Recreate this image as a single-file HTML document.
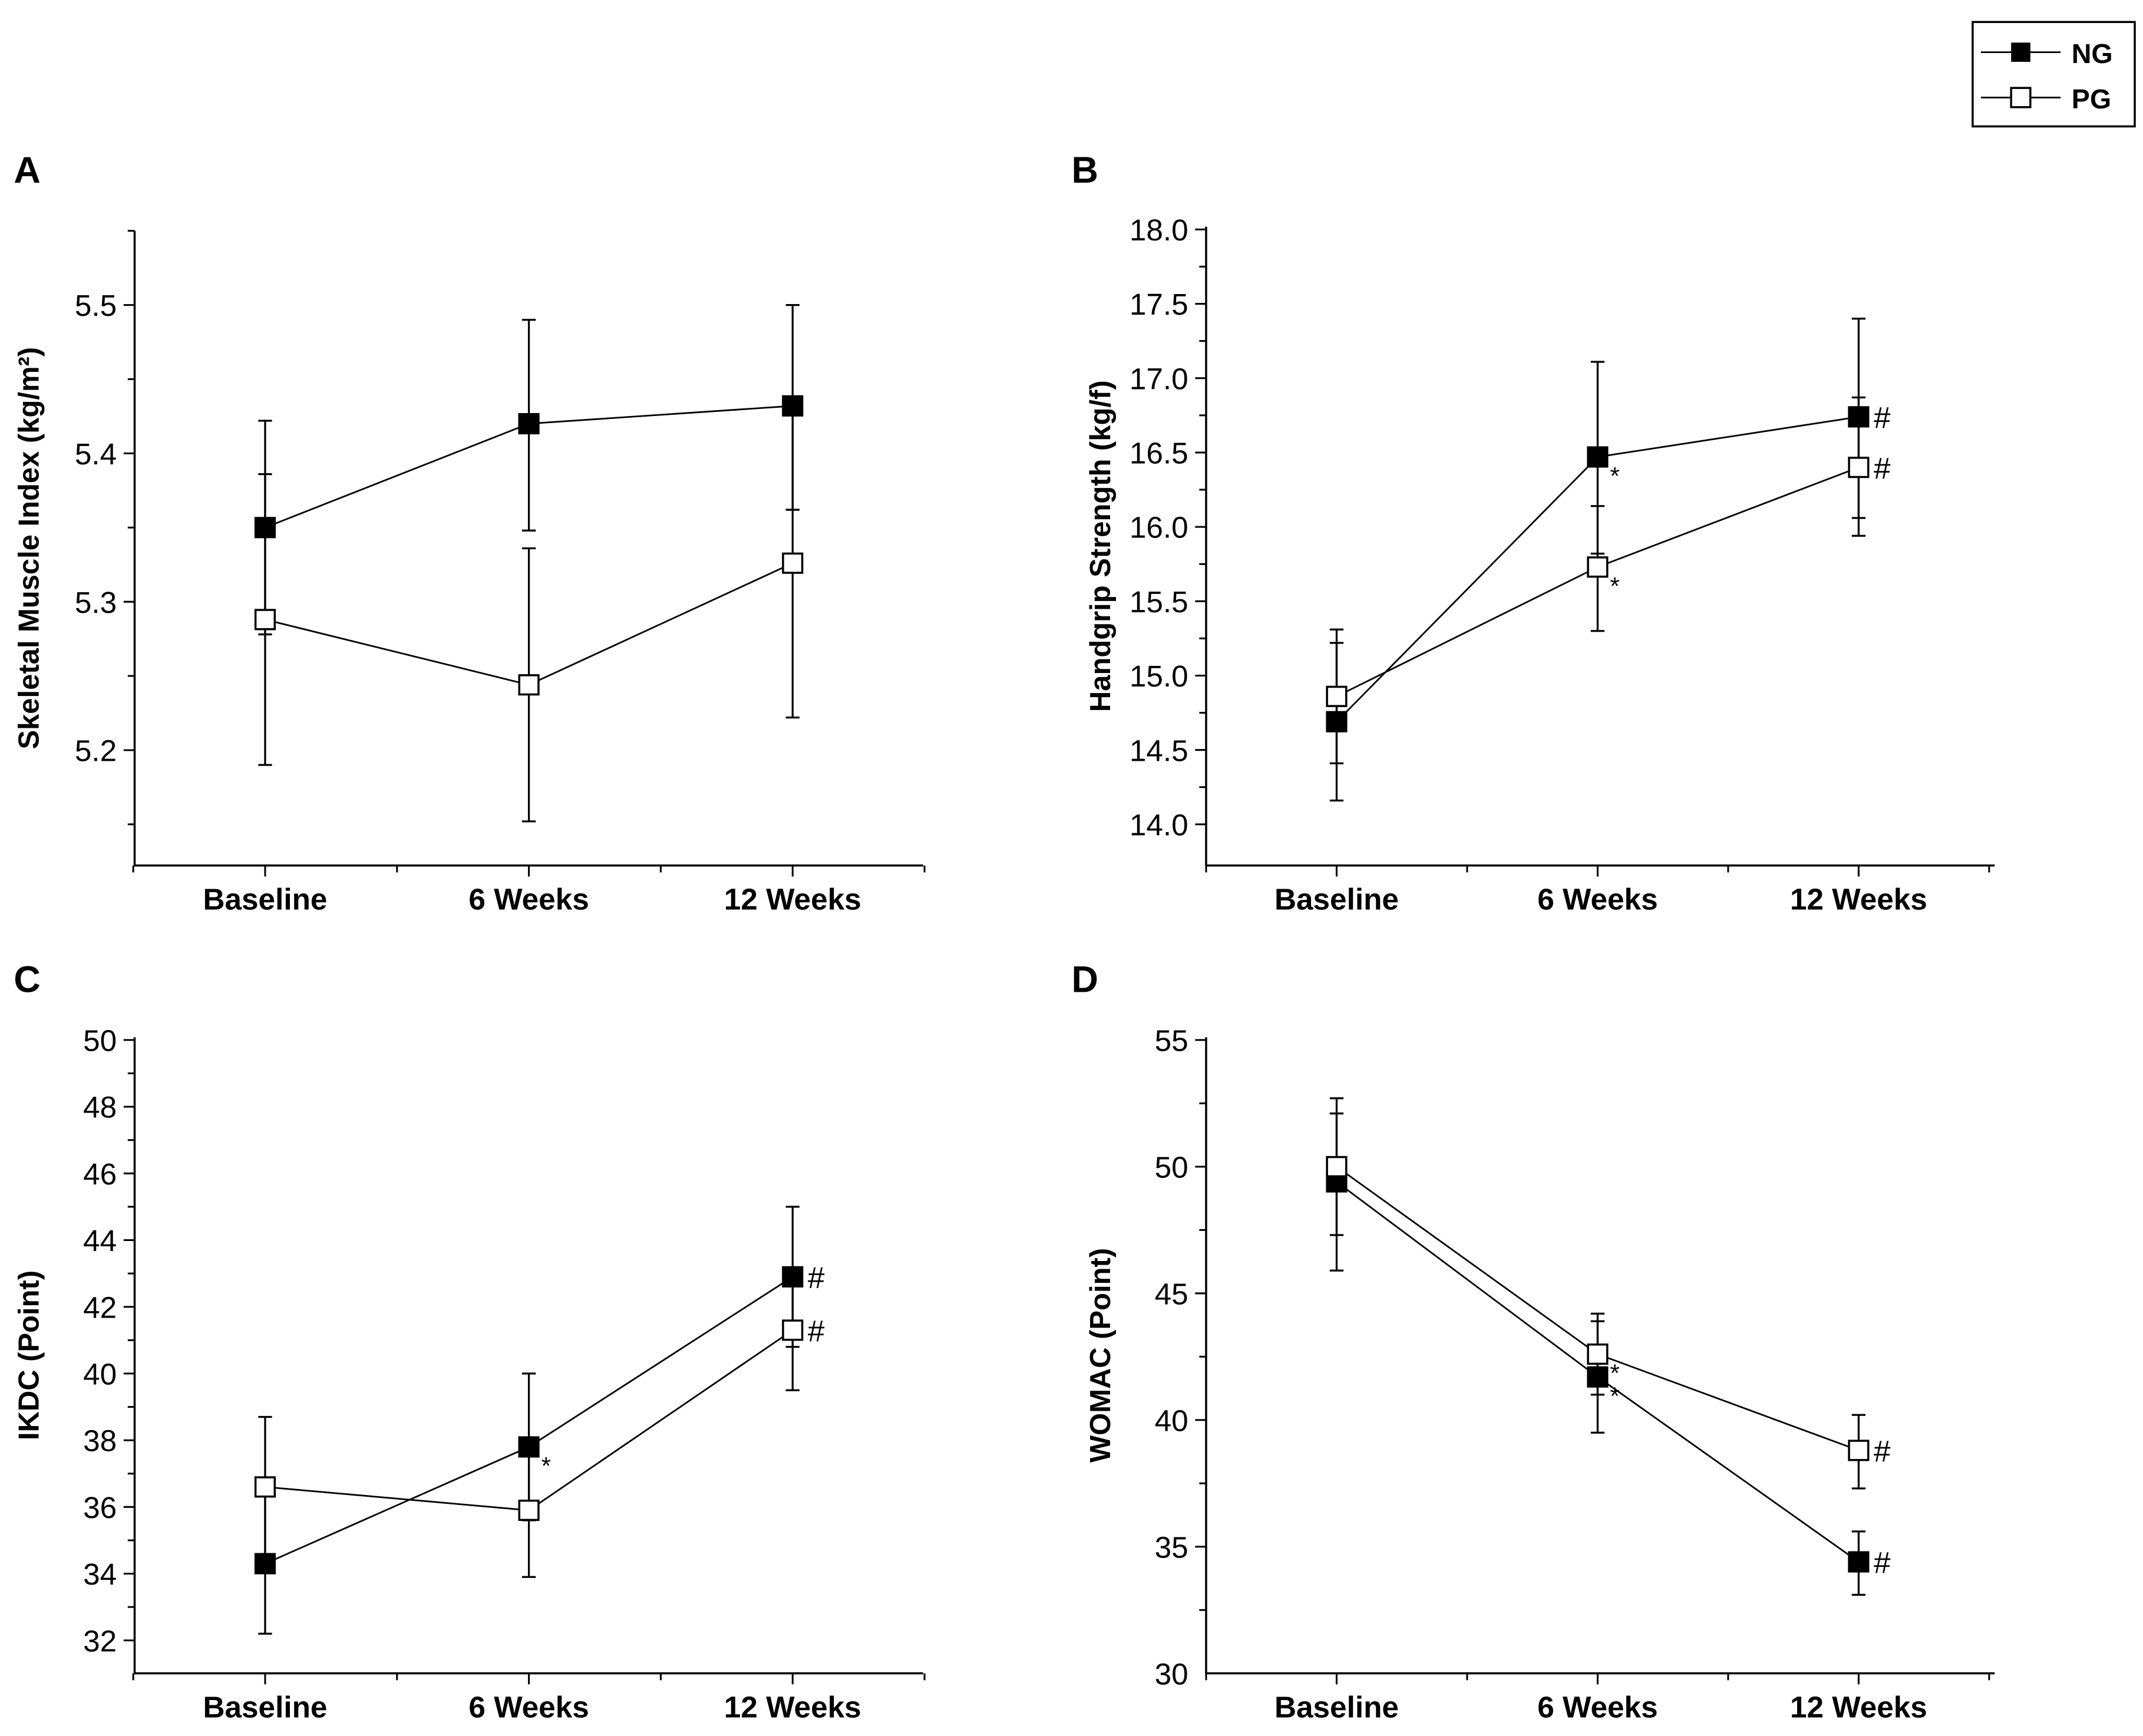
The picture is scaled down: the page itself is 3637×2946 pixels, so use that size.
<!DOCTYPE html>
<html><head><meta charset="utf-8"><style>html,body{margin:0;padding:0;background:#fff}svg{display:block}</style></head>
<body>
<svg id="chart" xmlns="http://www.w3.org/2000/svg" width="3637" height="2946" viewBox="0 0 1560 1263.6" font-family="Liberation Sans, Arial, sans-serif">
<rect width="1560" height="1263.6" fill="#fff"/>
<g>
<rect x="1436" y="16" width="118" height="76" fill="#fff" stroke="#000" stroke-width="1.5"/>
<line x1="1442" y1="38" x2="1500" y2="38" stroke="#000" stroke-width="1.2"/>
<rect x="1464" y="31" width="14" height="14" fill="#000"/>
<text x="1508" y="46" font-size="20" font-weight="bold">NG</text>
<line x1="1442" y1="71" x2="1500" y2="71" stroke="#000" stroke-width="1.2"/>
<rect x="1464" y="64" width="14" height="14" fill="#fff" stroke="#000" stroke-width="1.5"/>
<text x="1508" y="79" font-size="20" font-weight="bold">PG</text>
</g>
<g id="plots"></g>
</svg>
<script>
const categories = ["Baseline","6 Weeks","12 Weeks"];
const ngA = [5.35, 5.42, 5.432];
const ngAErrHi = [5.422, 5.49, 5.5];
const ngAErrLo = [5.278, 5.348, 5.362];
const pgA = [5.288, 5.244, 5.326];
const pgAErrHi = [5.386, 5.336, 5.43];
const pgAErrLo = [5.19, 5.152, 5.222];
const ticksA = ["5.2","5.3","5.4","5.5"];

const ngB = [14.69, 16.47, 16.74];
const ngBErrHi = [15.22, 17.11, 17.40];
const ngBErrLo = [14.16, 15.82, 16.06];
const pgB = [14.86, 15.73, 16.40];
const pgBErrHi = [15.31, 16.14, 16.87];
const pgBErrLo = [14.41, 15.30, 15.94];
const ticksB = ["14.0","14.5","15.0","15.5","16.0","16.5","17.0","17.5","18.0"];

const ngC = [34.3, 37.8, 42.9];
const ngCErrHi = [36.4, 40.0, 45.0];
const ngCErrLo = [32.2, 35.6, 40.8];
const pgC = [36.6, 35.9, 41.3];
const pgCErrHi = [38.7, 37.9, 43.1];
const pgCErrLo = [34.4, 33.9, 39.5];
const ticksC = ["32","34","36","38","40","42","44","46","48","50"];

const ngD = [49.4, 41.7, 34.4];
const ngDErrHi = [52.1, 43.9, 35.6];
const ngDErrLo = [45.9, 39.5, 33.1];
const pgD = [50.0, 42.6, 38.8];
const pgDErrHi = [52.7, 44.2, 40.2];
const pgDErrLo = [47.3, 41.0, 37.3];
const ticksD = ["30","35","40","45","50","55"];

const NS="http://www.w3.org/2000/svg";
const root=document.getElementById('plots');
function mk(tag,attrs,parent){const e=document.createElementNS(NS,tag);for(const k in attrs)e.setAttribute(k,attrs[k]);(parent||root).appendChild(e);return e;}

function panel(cfg){
  const g=mk('g',{});
  
  
  const {x0,x1,yTop,yBot,v0,p0,v1,p1}=cfg;
  const ys=v=>p0+(v-v0)*(p1-p0)/(v1-v0);
  const xs=i=>x0+95+i*cfg.step;
  const L=mk('text',{x:cfg.lx,y:cfg.ly,'font-size':27,'font-weight':'bold'},g);L.textContent=cfg.letter;
  
  
  const ax=mk('path',{d:`M${x0} ${yTop} L${x0} ${yBot} L${x1} ${yBot}`,fill:'none',stroke:'#000','stroke-width':1.5},g);
  
  
  const tv=cfg.ticks.map(Number);const d=tv[1]-tv[0];
  for(let v=tv[0]-d;v<=tv[tv.length-1]+d+1e-9;v+=d/2){
    const y=ys(v); if(y<yTop-1||y>yBot-3)continue;
    const major=Math.abs(((v-tv[0])/d)-Math.round((v-tv[0])/d))<1e-6;
    mk('line',{x1:x0-(major?8:5),x2:x0,y1:y,y2:y,stroke:'#000','stroke-width':1.3},g);
  }
  cfg.ticks.forEach(t=>{const tx=mk('text',{x:x0-13,y:ys(Number(t))+8,'font-size':22,'text-anchor':'end'},g);tx.textContent=t;
    
    });
  const xticks=[x0+95-cfg.step/2,xs(0),xs(0)+cfg.step/2,xs(1),xs(1)+cfg.step/2,xs(2),xs(2)+cfg.step/2];
  xticks.forEach((x,k)=>{if(x<x0-1)return;mk('line',{x1:x,x2:x,y1:yBot,y2:yBot+(k%2?8:5),stroke:'#000','stroke-width':1.3},g);});
  categories.forEach((c,i)=>{const tx=mk('text',{x:xs(i),y:yBot+32,'font-size':22,'font-weight':'bold','text-anchor':'middle'},g);tx.textContent=c;
    
    });
  const cy=(yTop+yBot)/2;
  const yt=mk('text',{x:0,y:0,'font-size':21,'font-weight':'bold','text-anchor':'middle',transform:`translate(${x0-70},${cy+cfg.tOff}) rotate(-90)`},g);yt.textContent=cfg.title;
  
  
  cfg.series.forEach(s=>{
    s.vals.forEach((v,i)=>{
      const x=xs(i),yh=ys(s.hi[i]),yl=ys(s.lo[i]);
      const e=mk('path',{d:`M${x} ${yh} L${x} ${yl} M${x-5} ${yh} L${x+5} ${yh} M${x-5} ${yl} L${x+5} ${yl}`,stroke:'#000','stroke-width':1.4,fill:'none'},g);
      
      
    });
    const ln=mk('polyline',{points:s.vals.map((v,i)=>xs(i)+','+ys(v)).join(' '),fill:'none',stroke:'#000','stroke-width':1.2},g);
    
    
  });
  cfg.series.forEach(s=>{
    s.vals.forEach((v,i)=>{
      const m=mk('rect',{x:xs(i)-7,y:ys(v)-7,width:14,height:14,fill:s.fill,stroke:'#000','stroke-width':1.5},g);
      
      
    });
  });
  (cfg.marks||[]).forEach(m=>{
    const s=cfg.series[m[1]];
    const tx=mk('text',{x:xs(m[0])+(m[2]==='#'?11:9),y:ys(s.vals[m[0]])+(m[2]==='#'?8:20),'font-size':m[2]==='#'?22:18},g);tx.textContent=m[2];
    
    
  });
}
const S=(ng,nh,nl,pg,ph,pl)=>[{name:'ng',vals:ng,hi:nh,lo:nl,fill:'#000'},{name:'pg',vals:pg,hi:ph,lo:pl,fill:'#fff'}];
panel({letter:'A',lx:10,ly:133,x0:98,x1:672,yTop:168,yBot:630,step:192,v0:5.2,p0:546,v1:5.5,p1:222,ticks:ticksA,title:'Skeletal Muscle Index (kg/m²)',tOff:0,
  series:S(ngA,ngAErrHi,ngAErrLo,pgA,pgAErrHi,pgAErrLo)});
panel({letter:'B',lx:780,ly:133,x0:878,x1:1452,yTop:165,yBot:630,step:190,v0:14,p0:600,v1:18,p1:167,ticks:ticksB,title:'Handgrip Strength (kg/f)',tOff:0,
  series:S(ngB,ngBErrHi,ngBErrLo,pgB,pgBErrHi,pgBErrLo),marks:[[1,0,'*'],[1,1,'*'],[2,0,'#'],[2,1,'#']]});
panel({letter:'C',lx:10,ly:722,x0:98,x1:672,yTop:755,yBot:1218,step:192,v0:32,p0:1194,v1:50,p1:757,ticks:ticksC,title:'IKDC (Point)',tOff:0,
  series:S(ngC,ngCErrHi,ngCErrLo,pgC,pgCErrHi,pgCErrLo),marks:[[1,0,'*'],[2,0,'#'],[2,1,'#']]});
panel({letter:'D',lx:780,ly:722,x0:878,x1:1452,yTop:755,yBot:1218,step:190,v0:30,p0:1218,v1:55,p1:757,ticks:ticksD,title:'WOMAC (Point)',tOff:0,
  series:S(ngD,ngDErrHi,ngDErrLo,pgD,pgDErrHi,pgDErrLo),marks:[[1,0,'*'],[1,1,'*'],[2,0,'#'],[2,1,'#']]});
</script>
</body></html>
